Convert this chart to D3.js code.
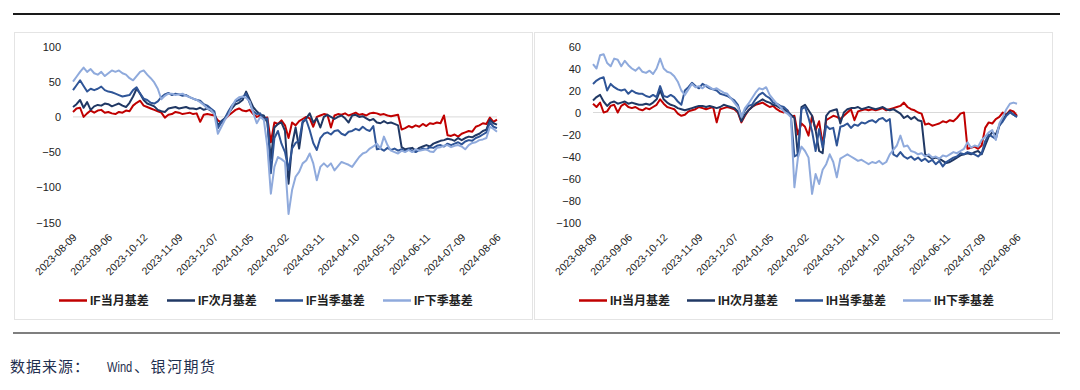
<!DOCTYPE html>
<html><head><meta charset="utf-8">
<script src="https://cdn.jsdelivr.net/npm/d3@7"></script>
<style>body{margin:0;background:#fff;} svg{display:block}</style>
</head><body>
<svg id="c" width="1080" height="390"></svg>
<script>
const dateTicks = ["2023-08-09","2023-09-06","2023-10-12","2023-11-09","2023-12-07","2024-01-05","2024-02-02","2024-03-11","2024-04-10","2024-05-13","2024-06-11","2024-07-09","2024-08-06"];

const ifMonth = [7,12,13,0,5,9,6,9,10,6, 7,5,4,7,6,9,8,16,20,23, 16,14,12,10,8,6,-1,3,4,7, 6,4,5,6,4,5,-7,3,4,3,
 2,-5,-8,-3,2,6,10,12,9,8, 10,4,0,2,-2,-1,-36,-8,-10,-5, -12,-30,-8,-12,-6,-3,0,-2,-14,0, 2,4,3,-15,2,4,3,5,2,4,
 6,3,4,2,5,6,5,3,4,2, 1,2,3,-18,-16,-13,-15,-12,-14,-10, -13,-9,-10,-8,-9,2,-26,-27,-25,-28, -24,-22,-20,-21,-14,-12,-9,-10,-1,-7, -4];
const ifNext = [14,18,24,13,21,10,15,17,16,19, 18,15,17,19,16,14,20,29,40,33, 24,19,17,15,10,8,7,12,13,14, 12,13,14,12,12,11,13,10,12,9,
 5,-12,-6,-2,5,12,18,20,24,36, 25,14,8,3,2,-8,-60,-15,-10,-8, -20,-95,-40,-15,-45,-8,-2,5,-8,-2, -15,0,3,0,-3,0,2,-2,-8,2,
 3,0,1,-2,-5,-3,-8,-9,-6,-9, -8,-10,-12,-43,-46,-45,-44,-48,-44,-42, -40,-42,-38,-36,-34,-33,-31,-32,-34,-30, -33,-30,-28,-29,-26,-24,-20,-18,-4,-9, -11];
const ifQuarter = [38,45,52,44,36,40,38,40,43,38, 36,35,33,31,29,30,31,38,42,33, 26,24,20,19,22,28,32,34,31,33, 32,30,31,28,26,24,23,18,16,12,
 8,-16,-8,-2,8,16,22,24,28,33, 20,8,4,5,-4,-2,-80,-30,-20,-38, -50,-75,-45,-37,-34,-6,-4,-19,-37,-47, -30,-24,-22,-25,-20,-19,-24,-26,-21,-20,
 -17,-19,-14,-18,-20,-13,-46,-45,-48,-44, -47,-45,-48,-46,-49,-46,-48,-50,-47,-45, -46,-43,-44,-41,-40,-42,-38,-40,-38,-36, -39,-35,-33,-34,-30,-28,-25,-22,-8,-14, -16];
const ifNextQuarter = [50,57,64,70,64,68,62,60,64,58, 62,66,64,66,62,60,55,52,58,64, 66,60,55,49,40,25,30,33,33,31, 32,33,30,28,26,24,21,17,12,10,
 4,-24,-14,-4,3,15,24,28,29,27, 22,6,-9,0,-4,-42,-109,-71,-57,-60, -64,-138,-104,-85,-78,-66,-62,-52,-66,-90, -71,-66,-71,-66,-76,-70,-64,-66,-68,-71,
 -64,-57,-52,-50,-45,-42,-38,-45,-28,-40, -48,-50,-52,-48,-50,-47,-50,-46,-48,-47, -46,-49,-50,-44,-43,-41,-40,-43,-41,-40, -42,-46,-40,-37,-36,-33,-32,-30,-14,-17, -21];

const ihMonth = [8,5,9,0,1,6,7,0,6,8, 5,4,5,3,2,4,3,5,7,12, 8,5,4,3,-1,-3,-2,1,2,3, 5,4,3,4,5,-9,3,4,5,4,
 3,0,-9,-3,2,5,7,8,9,7, 5,6,3,1,0,2,-4,-3,-20,-10, -13,-21,-3,-16,-8,-29,-7,-5,-3,-4, -6,-3,0,3,-7,1,2,3,2,3,
 2,3,4,2,3,4,5,6,9,5, 3,2,0,-1,-11,-10,-12,-11,-10,-8, -9,-7,-8,-5,-1,0,-33,-32,-31,-33, -30,-14,-9,-10,-6,-4,0,-2,2,1, -3];
const ihNext = [11,14,16,10,6,9,10,8,9,10, 8,9,8,7,7,8,7,9,12,20, 12,9,7,6,4,3,2,3,4,5, 6,6,5,6,5,4,5,7,6,5,
 4,1,-8,-2,2,5,8,10,12,10, 9,7,6,4,3,1,-2,-5,-40,5, 7,2,-3,-16,-35,-37,-3,1,2,3, -10,0,3,4,4,5,3,4,5,4,
 3,4,5,3,2,3,1,-1,-5,-3, -6,-4,-7,-8,-38,-40,-42,-41,-42,-44, -46,-45,-43,-41,-39,-38,-37,-38,-36,-35, -38,-30,-22,-18,-20,-12,-6,-2,1,-2, -4];
const ihQuarter = [26,29,31,32,20,26,23,21,20,21, 17,20,18,17,17,15,14,16,14,24, 15,14,16,14,10,7,20,23,27,24, 22,26,24,22,21,20,17,16,15,13,
 11,7,-4,2,6,7,12,16,18,15, 13,9,8,6,5,2,-3,-40,-38,3, 5,-5,-17,-35,-15,-32,-12,-15,-14,-30, -13,-12,-10,-14,-11,-12,-9,-10,-8,-7,
 -9,-6,-5,-8,-6,-38,-40,-36,-40,-42, -40,-43,-41,-44,-42,-45,-43,-47,-44,-49, -45,-43,-41,-40,-37,-38,-36,-37,-38,-40, -37,-26,-20,-22,-24,-12,-8,-3,0,-2, -4];
const ihNextQuarter = [44,40,52,53,45,42,49,48,42,47, 43,40,38,41,37,36,38,35,40,49, 40,37,36,33,28,20,16,21,26,23, 24,22,25,23,21,22,20,18,17,13,
 9,5,-4,4,8,13,18,22,21,23, 16,12,8,5,1,-1,-4,-68,-41,-31, -35,-41,-74,-56,-65,-52,-47,-38,-45,-59, -42,-40,-38,-40,-42,-44,-43,-45,-47,-45,
 -46,-44,-47,-45,-38,-34,-30,-21,-31,-30, -35,-36,-38,-37,-40,-38,-41,-40,-42,-39, -40,-38,-36,-37,-35,-33,-27,-32,-30,-31, -25,-22,-18,-16,-25,-10,-4,3,8,9, 8];

const ifNames = ["IF当月基差","IF次月基差","IF当季基差","IF下季基差"];
const ihNames = ["IH当月基差","IH次月基差","IH当季基差","IH下季基差"];
const ifTicks = [100,50,0,-50,-100,-150];
const ihTicks = [60,40,20,0,-20,-40,-60,-80,-100];
const colors = ["#C00000","#203864","#2F5597","#8FAADC"];

const svg = d3.select("#c");
const FONT = "'Liberation Sans', Arial, sans-serif";
const CJK = "'Liberation Sans', 'Noto Sans CJK SC', sans-serif";

svg.append("line").attr("x1",13).attr("x2",1060).attr("y1",14).attr("y2",14)
  .attr("stroke","#1a1a1a").attr("stroke-width",2);
svg.append("line").attr("x1",13).attr("x2",1060).attr("y1",333).attr("y2",333)
  .attr("stroke","#7f7f7f").attr("stroke-width",2);

function panel(x0, names, seriesList, yDomain, yTicks) {
  const g = svg.append("g").attr("transform", `translate(${x0},0)`);
  g.append("rect").attr("x",0.5).attr("y",32.5).attr("width",518).attr("height",287)
    .attr("fill","#fff").attr("stroke","#e4e4e4");
  const n = seriesList[0].length;
  const x = d3.scaleLinear().domain([0, n-1]).range([59, 483]);
  const y = d3.scaleLinear().domain(yDomain).range([222.5, 46.5]);

  g.append("line").attr("x1",x(0)).attr("x2",x(n-1)).attr("y1",y(0)).attr("y2",y(0))
    .attr("stroke","#d9d9d9").attr("stroke-width",1);

  const ya = g.append("g").attr("transform","translate(47,0)")
    .call(d3.axisLeft(y).tickValues(yTicks).tickSize(0).tickPadding(0));
  ya.select(".domain").remove();
  ya.selectAll("text").attr("font-family",FONT).attr("font-size",11).attr("fill","#222");

  const xa = g.append("g")
    .call(d3.axisBottom(x).tickValues(d3.range(0, n, 10)).tickSize(0)
      .tickFormat((d,i) => dateTicks[i]));
  xa.select(".domain").remove();
  xa.selectAll("text").attr("y",0).attr("dy",0).attr("x",0)
    .attr("text-anchor","end").attr("transform","translate(4,238) rotate(-45)")
    .attr("font-family",FONT).attr("font-size",10.5).attr("fill","#222");

  const line = d3.line().x((d,i)=>x(i)).y(d=>y(d));
  seriesList.forEach((s,k) => {
    g.append("path").datum(s).attr("d", line).attr("fill","none")
      .attr("stroke", colors[k]).attr("stroke-width",2).attr("stroke-linejoin","round");
  });

  const offs = [45,153,261,369];
  names.forEach((nm,k) => {
    g.append("line").attr("x1",offs[k]).attr("x2",offs[k]+28).attr("y1",300.5).attr("y2",300.5)
      .attr("stroke",colors[k]).attr("stroke-width",2.5);
    g.append("text").attr("x",offs[k]+31).attr("y",300.5).attr("dy","0.36em")
      .attr("font-family",CJK).attr("font-weight","bold").attr("font-size",12)
      .attr("fill","#222").text(nm);
  });
}

panel(14, ifNames, [ifMonth, ifNext, ifQuarter, ifNextQuarter], [-150,100], ifTicks);
panel(534, ihNames, [ihMonth, ihNext, ihQuarter, ihNextQuarter], [-100,60], ihTicks);

const src = svg.append("g").attr("fill","#1F2F4F");
src.append("text").attr("x",10).attr("y",372).attr("font-size",15).attr("letter-spacing",1)
  .attr("font-family","'Noto Sans CJK SC', sans-serif").text("数据来源：");
src.append("text").attr("transform","translate(107,372) scale(0.74,1)").attr("font-size",15)
  .attr("font-family",FONT).text("Wind");
src.append("text").attr("x",134).attr("y",372).attr("font-size",15).attr("letter-spacing",1.5)
  .attr("font-family","'Noto Sans CJK SC', sans-serif").text("、银河期货");
</script>
</body></html>
